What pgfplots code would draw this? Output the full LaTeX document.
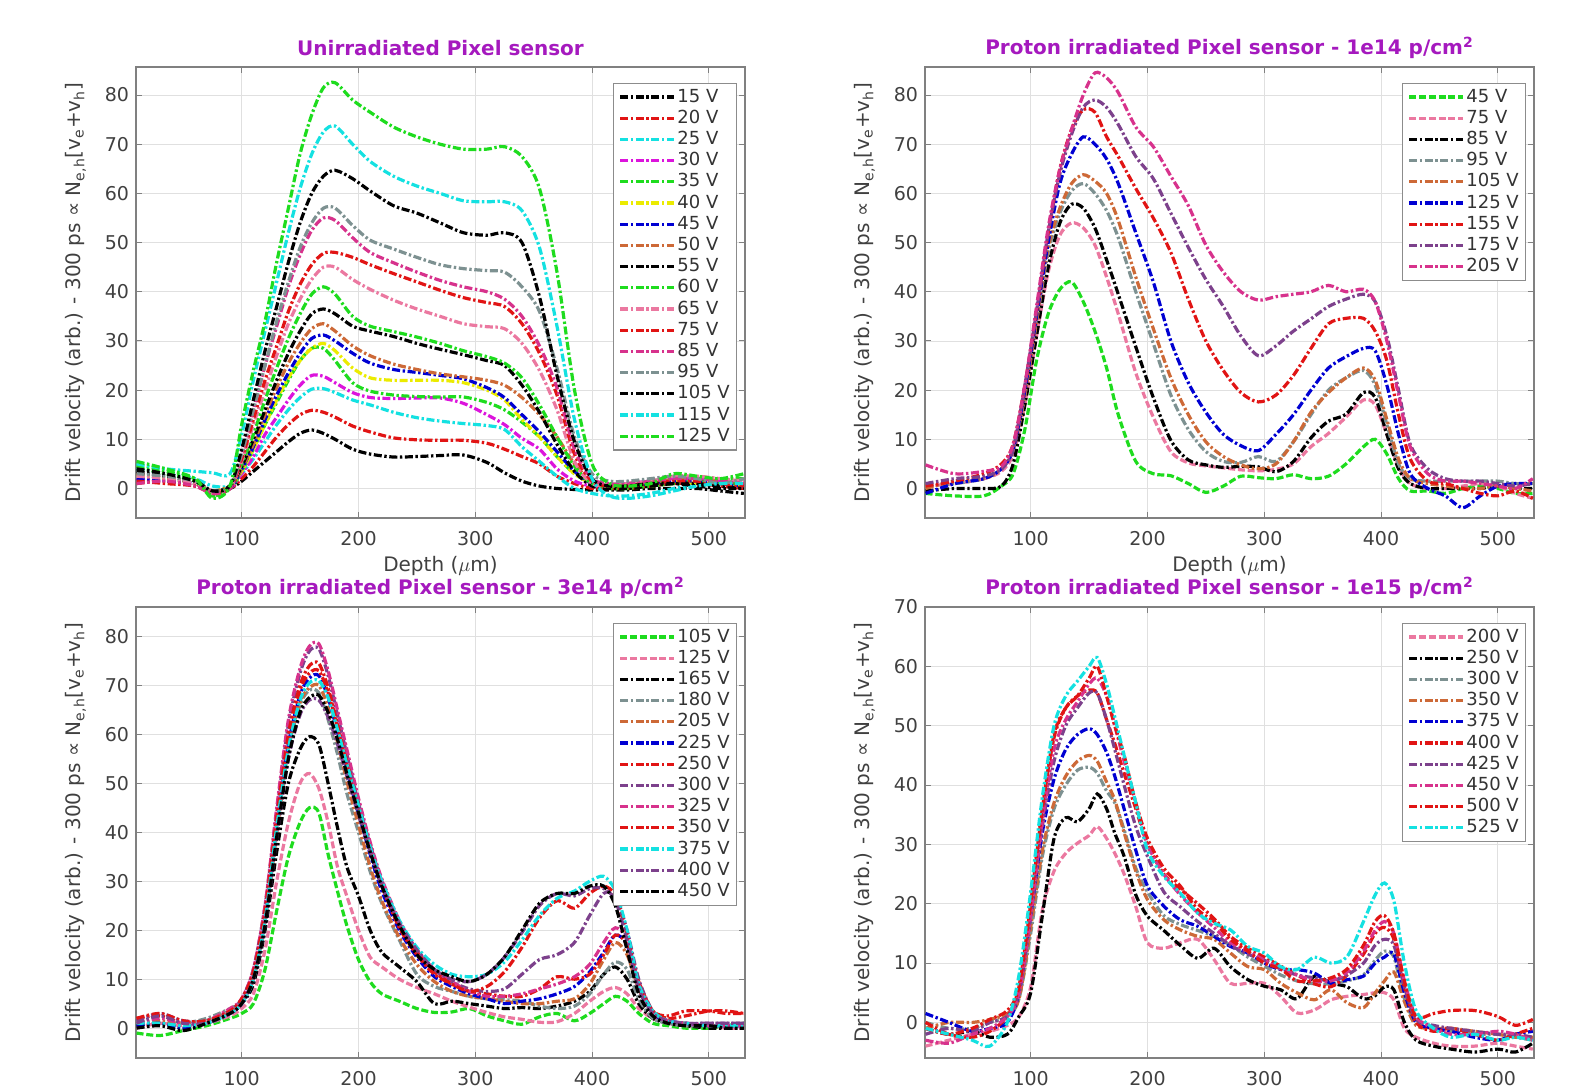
\documentclass[border=0pt]{standalone}
\usepackage{pgfplots}
\pgfplotsset{compat=1.18}
\usepackage{pgfplotstable}
\usepackage{fontspec}
\setmainfont{DejaVu Sans}

\definecolor{cK}{RGB}{0,0,0}
\definecolor{cR}{RGB}{225,20,20}
\definecolor{cC}{RGB}{20,225,225}
\definecolor{cM}{RGB}{220,20,220}
\definecolor{cG}{RGB}{30,220,30}
\definecolor{cY}{RGB}{235,235,0}
\definecolor{cB}{RGB}{0,0,210}
\definecolor{cO}{RGB}{205,105,55}
\definecolor{cP}{RGB}{235,120,160}
\definecolor{cD}{RGB}{215,50,140}
\definecolor{cGr}{RGB}{125,145,145}
\definecolor{cPu}{RGB}{125,65,140}
\definecolor{ttl}{RGB}{165,25,190}

\pgfplotstableread{
x a15 a20 a25 a30 a35 a40 a45 a50 a55 a60 a65 a75 a85 a95 a105 a115 a125
10 3 1 4 2 4.5 2.5 2 3 3.5 5 2.5 1.5 1 3 4 5 5.5
35 2.5 1.5 3 1.5 3 2 1.5 2 2.5 3.5 2 1 1.5 2.5 3 4 4
60 1 0.5 2 1 1.5 1 1 1 1.5 2 1 0.5 0.5 1.5 1.5 3.5 2
75 -0.5 -0.5 0.5 -0.5 -1.5 -0.5 -1 -0.5 -0.5 -1.5 -1 -1 -1 -0.5 -0.5 3.2 -2
90 0 0 0.5 0 0 0.5 0 0.5 0.5 0.5 0 0 0 0.5 0.5 3 0.5
100 1.5 2 3 3 3.5 3.5 4 4 4.5 5 5.5 6 7 7 8 11 13
110 3.5 4.5 6 6.5 8 8 8.5 9 10 11 13 14 16 16 18 22 24
120 5.5 7.5 9.5 11 13 13 14 15 16 18 20 22 25 25 28 32 34
130 7.5 10.5 13 14.5 17.5 18 19 20.5 22 24.5 27 29 33 34 37 42 46
140 9.5 13 16 18 22 22.5 23.5 25.5 27.5 30.5 33.5 36 41 42 46 52 57
150 11.2 15 18.5 21 26 26 27.5 29.5 32 35.5 38.5 41.5 47.5 49 54 61 68
160 11.9 15.9 20.2 23 28.5 28.5 30.5 32.5 35.5 39.5 42.5 45.5 52.5 54 60 68 76
170 11.2 15.5 20.3 22.8 28.5 29.5 31.2 33.5 36.5 41 45 47.8 55 57 63.5 72.5 81.5
180 10 14.5 19.5 21.5 26 28 30 32 35.5 39.5 45 48 54.5 57 64.7 73.7 82.5
195 8 12.7 18 19.5 21.5 24.5 27.5 29 33 35 42.5 47 51 53.5 63 70 79
210 7 11.5 17 18.5 19.8 22.5 25.5 27 32 33 40.5 45.5 48 50.5 60.5 66.5 76.5
230 6.4 10.3 15.5 18.3 19 22 24.2 25.3 30.9 31.9 38.3 43.7 45.9 48.7 57.5 63.5 73.5
250 6.5 9.9 14.4 18.4 18.7 22 23.6 24.2 29.5 30.8 36.5 42 44 47 56 61.5 71.5
270 6.7 9.8 13.7 18.4 18.6 22 23 23.3 28.3 29.5 35 40.3 42.3 45.5 54 60 70
290 6.8 9.8 13.2 17.3 18.6 21.5 22.3 22.7 27.2 28 33.5 38.8 41 44.7 52 58.5 69
310 5.3 9.2 12.8 15 17.5 20 20.5 22 26 26.8 32.9 37.8 40 44.3 51.5 58.3 69
325 3.2 8 12 13 16 18 18.5 21 25 25.5 32.5 37 38.5 44 52 58.3 69.5
340 1.5 6.5 8.5 10.2 13.5 14 15 18.5 21 22.5 29.5 33.5 35 41 50 56.5 67.5
355 0.5 5 5.5 8 10.5 10.5 11.5 15 15.5 17 24 27.5 29 36 39 49 61
370 0 2.5 2.5 4 6.5 6.5 7.5 10.5 9 10.5 16 19 20.5 24.5 23 33 44
385 -0.2 1 0 1.5 3 3 3.5 5 3.5 4.5 5.5 7 8 10.5 9.5 14 20
400 -0.3 0 -1 0.5 1 1 1 1.5 0.5 1 1 1.5 2 3 2 2 5
415 -0.3 0 -1.5 0.5 0 0.5 0.5 0.5 0 0.5 0.5 0.5 1 1.5 0.5 -1.5 1
430 -0.3 0 -1.5 1 0 0.5 0.5 1 0 0.5 1 0.5 1 1.5 0.5 -2 0.5
450 0 0.5 -1 1.5 0.5 1 1 1.5 0.5 1.5 1.5 1 1.5 2 1 -1.5 1
470 0 1 0 2 1 1.5 1.5 2 1 2.5 2.5 1.5 2 2.5 1 -0.5 3
490 0 1 1 2 1.5 1 1.5 2 1 2 2.5 1.5 2 2 0.5 0.5 2.5
510 -0.5 0.5 1 1.5 1 1 1 1.5 0.5 2 2 1 1.5 1 0 1 2
530 -1 0 1 1 1 0.5 0.5 1 0 2 1.5 0.5 1 2 0 1 3
}\TL

\pgfplotstableread{
x b45 b75 b85 b95 b105 b125 b155 b175 b205
10 -1 0.5 -0.5 0.5 0 -1 0.5 1 4.8
35 -1.5 1 0 1 1.5 1 1.5 2 3
60 -1.5 2 0 2 2 2 3 2.5 3.5
75 0.5 3.5 0.5 4 4 4 5 4 4.5
85 3 7 5 8 8 8 9 8 9
95 12 17 17 19 19 20 21 21 21
105 26 31 31 34 34 35 36 36 37
115 35.5 44 45 48 49 50 52 52 53
125 40.5 51.5 54 56 57 62 65 64 65
135 42 54 57.8 60.5 62 68 73 72 73
145 38 53 57 62 63.8 71.5 77 77.5 80
155 32 49.5 53 60 62.5 70 76.5 79 84.5
165 24.5 43 46.5 56.5 60 67 71.5 77.5 83.5
175 15 35.5 39.5 51 54.5 62 67.5 74 80.5
190 5.5 23.5 28.8 40 43 52 61 67.5 73.5
205 3 14.5 18.5 29.5 32.5 42 55 63 69.5
220 2.6 7.5 9.8 19 22.5 30 48 56 63.5
235 1 5.2 5.8 12 15 21.5 38.5 49 57.5
250 -0.8 4.6 4.8 7.5 9.5 15.5 30 42.5 49.5
265 0.5 4.2 4.3 5.5 6.5 11 24 37 44
280 2.5 3.8 4.5 5.3 4.8 8.7 19.5 31 40
295 2.2 3.6 4.4 6.5 4 7.7 17.6 27 38.3
310 2 3.9 3.4 5.5 5 11 19 29 39
325 2.8 5 5.5 9.5 9.5 15 23 32 39.5
340 2 8.5 10.3 15 15.5 20 28.5 34.5 40
355 2.5 11.2 13.7 20 19.5 24.5 33.5 37 41.3
370 5 14.5 15.1 22.5 22.5 26.8 34.6 38.5 40
385 8.5 18 19.5 24 24.5 28.5 34.6 39.5 40.5
395 10 17 18.5 21 22 28 32 38 38
405 7 11 11 13 14 21 26 31 30
415 2 4.5 4 5 6 11 15 20 19
425 -0.5 1 1 2 2 3 6 9 8.5
440 -0.5 0 0 1.5 1 0 1.5 4 3
455 -1 0 0 1.5 0.5 -1.5 1 2 1.5
470 0 0.5 0 1.5 0 -3.9 0 1.5 1.5
485 0.5 1 0 1.5 0 -1.5 -1 1.5 1
500 0 0.5 0.5 1.5 0.5 0.5 -1.5 1 0.5
515 -1 -1 0 1 0 1 -0.5 0.5 0
530 -1 -2 0 1 -0.5 1 -2 1 2
}\TR

\pgfplotstableread{
x c105 c125 c165 c180 c205 c225 c250 c300 c325 c350 c375 c400 c450
10 -1 0 0.5 1.5 1 0.5 2 1.5 1 2 1 1 0
30 -1.5 1 1 1 1.5 1 2.5 3 2 3 1 2.5 0.5
50 -0.5 0.5 0 1 1 0 1 1.5 1 1.5 0.5 1 -0.5
70 0.5 1 1.5 2 1.5 1 1.5 1.5 1.5 1.5 1 1 1
90 2 2.5 3 4 3.5 3 3.5 3.5 4 3.5 3 3 3
100 3 4 5 5.5 5.5 5 5.5 6 6 6 5 5 5
110 5 7 9 10 10 10 11 12 12 11.5 10 10 10
120 12 16 20 22 22 22 23 25 25 24 22 21 21
130 24 30 36 40 40 41 42 44 45 43 41 39 39
140 35 42 50 57 57 58 59 62 63 60 57 55 55
150 42 50 57 66 66.5 68 69 72.5 73.5 70 67 64 64.5
158 45 52 59.5 69 69.5 71.5 72.5 77 78 74 70.5 67 67.5
166 44 49 58 68.5 70 72 73 77.5 78.5 74.5 71 67 68
174 35.5 42 50 63 65.5 67.5 68.5 72 73 69.5 67.5 63.5 64.5
182 28 33 41 56 58.5 60.5 61.5 64 65 62 61 58 59
190 21 27 33 48 50.5 53 54 56 57 54.5 54 51.5 52
200 14 20 27 40 41.5 44 45 46 47 45.5 45.5 43.5 44
210 9.5 14.5 20 32 33 35.5 36.5 37.5 38 37 37 36 36
220 7 12.5 15.5 25.5 26 28 29 30 30.5 29.5 30 29 29
235 5.5 10 12.5 18 18.5 20 20.5 21.5 22 21 22 21.5 21
250 4 8.3 9.5 11 13 14.5 15 16 16 15.5 16.5 16 15
265 3.2 7 5 8.5 9.5 10.5 11 12 12 11.5 13 12 12
280 3.3 5.5 5.5 7.5 7.5 8.5 9 9.5 9.5 9 11 10 10.5
295 4 4.3 5 6.5 6.5 7 7.5 8 7.5 7.5 10.5 9.5 9.5
310 2.5 3.2 4.5 6 6 6 7 7.5 6.5 8.5 11 11 11
325 1.5 2.3 4 5.8 5.5 5 6.5 8 6.5 11.5 13.5 14.5 14.5
340 0.8 1.8 4.2 5.5 5 5.5 6.5 11 7 16.5 18 19.5 20
355 2.3 1.2 4 4.5 5 6 8 14 8 22.5 23 25 25.5
370 3 1.3 4.5 4 5.5 7 10.5 15 9 26 26.5 27.5 27.5
385 1.5 3 5.5 4.5 6 8.5 10 17.5 10.5 24.5 28 27 27.5
398 3 5.5 7.5 7 9 11.5 11 23 13 27.5 30 28.5 29
410 5 7.5 11 11 14 15.5 15 27.5 17.5 29 31 28.5 29
420 6.5 8.3 12.5 13.5 17.5 19 19 27 20.5 27 28 26 25
430 5.5 7 10 12 15 17 17 20 18 19 20 18 16
440 3 4 5 6 8 9 9.5 10 9 9 9 8 7
452 1 2 2 2 3 3 3.5 3.5 3 3.5 3.5 3 2.5
465 0.5 1 1 1 1.5 1.5 2 1.5 1.5 2.5 1.5 1.5 1
480 0 0.5 0.5 0.5 1 1 2.5 1 1 3.5 1 1 0.5
500 0 0.5 0 0.5 0.5 0.5 3.5 1 0.5 3.5 0.5 1 0.5
515 0.5 0 0 0.5 0.5 0.5 3.5 1 0.5 3 0.5 1 0
530 1 0 0 0.5 0.5 0.5 3 1 0.5 3 0.5 1 0
}\BL

\pgfplotstableread{
x d200 d250 d300 d350 d375 d400 d425 d450 d500 d525
10 -4 -1 0 -1 1.5 0 -2 -3 -1 -1
30 -3 -2 -1 0 0 -2 -1 -3.5 -2 -2
50 -2 -1.5 -1 0 -1.5 -2.5 -1.5 -2 -1 -3
65 -1.5 -2.5 0 0.5 -1 -1.5 0 -1 0.5 -4
80 -0.5 -2 1 1.5 0 1 1 1 2 0
90 1 1 4 4 5 6 5 5 6 8
100 6 5 15 16 18 20 18 18 20 22
110 19 18 28 29 32 36 33 34 36 38
120 25.5 31 36 37 41 48 44 46 48.5 50
130 28.5 34.5 40 41.5 46 53 50 51 53 55
140 30.2 33.8 42.5 44 48.5 55 53 54 55 57.5
150 31.5 36 43 45 49.5 56 55.5 57 58 60
157 33 38.5 42 44 48.5 55.5 55.5 58 60 61.5
165 31 36 39 40.5 45.5 51 51 55 55 57
172 28.5 31.9 37 37.5 41.5 47 46 50 50 51.5
180 25 28 32.5 32 36 42 40 44 45 45
190 19.5 21.5 26 25.5 29 36 33 37 37 37
200 13.4 17.9 22 20.7 23 30 28 30 31 29
214 12.5 15.5 18 17.3 19.6 25 22 25 26 24.6
228 13.4 13 16.5 15.6 17.3 22.5 19.5 21.5 23 21.8
243 14 10.8 15.5 14.5 16.2 20 17 18.5 19 18.4
257 10.6 12.5 14.5 14 14.5 17.5 15 16 17 16.7
271 6.6 9.4 13 11.7 12.8 14.5 13 13.5 14 15.6
286 6.6 7.2 11 9.4 11.7 12.5 11.5 12 12 12.8
300 6.6 6.1 9.5 8.9 10 11 10.5 10.5 10 11.7
314 4.4 5.5 8 6.6 8.9 9.5 9 9 9 9.4
328 1.6 4 7 5 8.9 8 8 8 7 8.9
343 2.1 7.8 6.5 3.8 8.3 6.5 7.5 7 7 11
357 3.8 6.6 6.5 5.5 6.6 6 7 7 7.5 10
371 4.4 6 7 3.3 7.2 8 8 8.5 9 11.1
385 4.7 4 8 2.5 7.8 11.5 10 12 13 17
395 5 4.5 10.5 5 10 15 13 15.5 17 21.5
403 5 6 12 7 11 16 14 17 18 23.5
411 3.8 5.5 11 8.5 11.5 14 13 15 15 20.5
420 -1 0 4 3.5 5 6 6 7 7 10
430 -2.5 -3 0 -0.5 0 0 0.5 1 1 2
445 -3.5 -4 -1 -1 -1 -1.5 -0.5 -1 1.5 -1
460 -4 -4.5 -1.5 -1 -1.5 -1 -1 -2 2 -2.5
480 -4 -5 -2 -1.5 -2.5 -2 -1.5 -2 2 -2
500 -3.5 -4.5 -2 -2 -3 -3 -2 -1.5 1 -3
515 -4 -5 -2.5 -2.5 -2 -2 -2 -2 -0.5 -2.5
530 -4.5 -3.5 -3 -2.5 -1.5 -1 -2.5 -3 0.5 -3
}\BR

\pgfplotsset{
  dd/.style={dash pattern=on 4pt off 1.3pt on 1.2pt off 1.3pt},
  ds/.style={dash pattern=on 3.5pt off 1.4pt},
  panel/.style={
    scale only axis, width=304.5pt, height=225.5pt,
    xmin=9.5, xmax=531,
    xtick={100,200,300,400,500},
    ytick distance=10,
    grid=major,
    major grid style={line width=0.45pt, draw=black!12},
    axis line style={draw=black!50, line width=0.6pt},
    tick align=inside,
    major tick length=3pt,
    tick style={draw=black!50, line width=0.5pt},
    tick label style={font=\fontsize{9.5}{10}\selectfont, text=black!75},
    xticklabel style={yshift=-3pt},
    /pgf/number format/assume math mode=true,
    every axis title/.style={font=\bfseries\fontsize{10}{11}\selectfont, text=ttl, at={(axis description cs:0.5,1)}, anchor=center, yshift=9.5pt},
    every axis y label/.style={at={(axis description cs:-0.099,0.5)}, rotate=90, anchor=center, font=\fontsize{10}{11}\selectfont, text=black!75},
    every axis x label/.style={at={(axis description cs:0.5,0)}, anchor=center, yshift=-24pt, font=\fontsize{10}{11}\selectfont, text=black!75},
    ylabel={Drift velocity (arb.) - 300 ps ∝ N\textsubscript{e,h}[v\textsubscript{e}+v\textsubscript{h}]},
    legend cell align=left,
    legend image code/.code={\draw[##1] (0pt,0pt) -- (27pt,0pt);},
    legend style={at={(1,1)}, anchor=north east, xshift=-4pt, yshift=-7.8pt,
      draw=black!45, line width=0.6pt, fill=white,
      font=\fontsize{9}{10}\selectfont, text=black!80,
      inner xsep=2.5pt, inner ysep=2pt, row sep=0.8pt,
      nodes={inner sep=0.8pt, text height=6.6pt, text depth=1.6pt, anchor=west}},
    every axis plot/.append style={line width=1.6pt, smooth},
  },
}

\begin{document}
\begin{tikzpicture}
\useasboundingbox (0,0) rectangle (787.5pt,-543.5pt);

\begin{axis}[panel, at={(68pt,-259pt)}, anchor=south west,
  ymin=-6, ymax=85.7,
  title={Unirradiated Pixel sensor},
  xlabel={Depth ($\mu$m)}]
\addplot[cK,dd] table[x=x,y=a15]{\TL}; \addlegendentry{15 V}
\addplot[cR,dd] table[x=x,y=a20]{\TL}; \addlegendentry{20 V}
\addplot[cC,dd] table[x=x,y=a25]{\TL}; \addlegendentry{25 V}
\addplot[cM,dd] table[x=x,y=a30]{\TL}; \addlegendentry{30 V}
\addplot[cG,dd] table[x=x,y=a35]{\TL}; \addlegendentry{35 V}
\addplot[cY,dd] table[x=x,y=a40]{\TL}; \addlegendentry{40 V}
\addplot[cB,dd] table[x=x,y=a45]{\TL}; \addlegendentry{45 V}
\addplot[cO,dd] table[x=x,y=a50]{\TL}; \addlegendentry{50 V}
\addplot[cK,dd] table[x=x,y=a55]{\TL}; \addlegendentry{55 V}
\addplot[cG,dd] table[x=x,y=a60]{\TL}; \addlegendentry{60 V}
\addplot[cP,dd] table[x=x,y=a65]{\TL}; \addlegendentry{65 V}
\addplot[cR,dd] table[x=x,y=a75]{\TL}; \addlegendentry{75 V}
\addplot[cD,dd] table[x=x,y=a85]{\TL}; \addlegendentry{85 V}
\addplot[cGr,dd] table[x=x,y=a95]{\TL}; \addlegendentry{95 V}
\addplot[cK,dd] table[x=x,y=a105]{\TL}; \addlegendentry{105 V}
\addplot[cC,dd] table[x=x,y=a115]{\TL}; \addlegendentry{115 V}
\addplot[cG,dd] table[x=x,y=a125]{\TL}; \addlegendentry{125 V}
\end{axis}

\begin{axis}[panel, at={(462.5pt,-259pt)}, anchor=south west,
  ymin=-6, ymax=85.7,
  title={Proton irradiated Pixel sensor - 1e14 p/cm\textsuperscript{2}},
  xlabel={Depth ($\mu$m)}]
\addplot[cG,ds] table[x=x,y=b45]{\TR}; \addlegendentry{45 V}
\addplot[cP,ds] table[x=x,y=b75]{\TR}; \addlegendentry{75 V}
\addplot[cK,dd] table[x=x,y=b85]{\TR}; \addlegendentry{85 V}
\addplot[cGr,dd] table[x=x,y=b95]{\TR}; \addlegendentry{95 V}
\addplot[cO,dd] table[x=x,y=b105]{\TR}; \addlegendentry{105 V}
\addplot[cB,dd] table[x=x,y=b125]{\TR}; \addlegendentry{125 V}
\addplot[cR,dd] table[x=x,y=b155]{\TR}; \addlegendentry{155 V}
\addplot[cPu,dd] table[x=x,y=b175]{\TR}; \addlegendentry{175 V}
\addplot[cD,dd] table[x=x,y=b205]{\TR}; \addlegendentry{205 V}
\end{axis}

\begin{axis}[panel, at={(68pt,-529pt)}, anchor=south west,
  ymin=-6.1, ymax=86,
  title={Proton irradiated Pixel sensor - 3e14 p/cm\textsuperscript{2}}]
\addplot[cG,ds] table[x=x,y=c105]{\BL}; \addlegendentry{105 V}
\addplot[cP,ds] table[x=x,y=c125]{\BL}; \addlegendentry{125 V}
\addplot[cK,dd] table[x=x,y=c165]{\BL}; \addlegendentry{165 V}
\addplot[cGr,dd] table[x=x,y=c180]{\BL}; \addlegendentry{180 V}
\addplot[cO,dd] table[x=x,y=c205]{\BL}; \addlegendentry{205 V}
\addplot[cB,dd] table[x=x,y=c225]{\BL}; \addlegendentry{225 V}
\addplot[cR,dd] table[x=x,y=c250]{\BL}; \addlegendentry{250 V}
\addplot[cPu,dd] table[x=x,y=c300]{\BL}; \addlegendentry{300 V}
\addplot[cD,dd] table[x=x,y=c325]{\BL}; \addlegendentry{325 V}
\addplot[cR,dd] table[x=x,y=c350]{\BL}; \addlegendentry{350 V}
\addplot[cC,dd] table[x=x,y=c375]{\BL}; \addlegendentry{375 V}
\addplot[cPu,dd] table[x=x,y=c400]{\BL}; \addlegendentry{400 V}
\addplot[cK,dd] table[x=x,y=c450]{\BL}; \addlegendentry{450 V}
\end{axis}

\begin{axis}[panel, at={(462.5pt,-529pt)}, anchor=south west,
  ymin=-6, ymax=70,
  title={Proton irradiated Pixel sensor - 1e15 p/cm\textsuperscript{2}}]
\addplot[cP,ds] table[x=x,y=d200]{\BR}; \addlegendentry{200 V}
\addplot[cK,dd] table[x=x,y=d250]{\BR}; \addlegendentry{250 V}
\addplot[cGr,dd] table[x=x,y=d300]{\BR}; \addlegendentry{300 V}
\addplot[cO,dd] table[x=x,y=d350]{\BR}; \addlegendentry{350 V}
\addplot[cB,dd] table[x=x,y=d375]{\BR}; \addlegendentry{375 V}
\addplot[cR,dd] table[x=x,y=d400]{\BR}; \addlegendentry{400 V}
\addplot[cPu,dd] table[x=x,y=d425]{\BR}; \addlegendentry{425 V}
\addplot[cD,dd] table[x=x,y=d450]{\BR}; \addlegendentry{450 V}
\addplot[cR,dd] table[x=x,y=d500]{\BR}; \addlegendentry{500 V}
\addplot[cC,dd] table[x=x,y=d525]{\BR}; \addlegendentry{525 V}
\end{axis}
\end{tikzpicture}
\end{document}
